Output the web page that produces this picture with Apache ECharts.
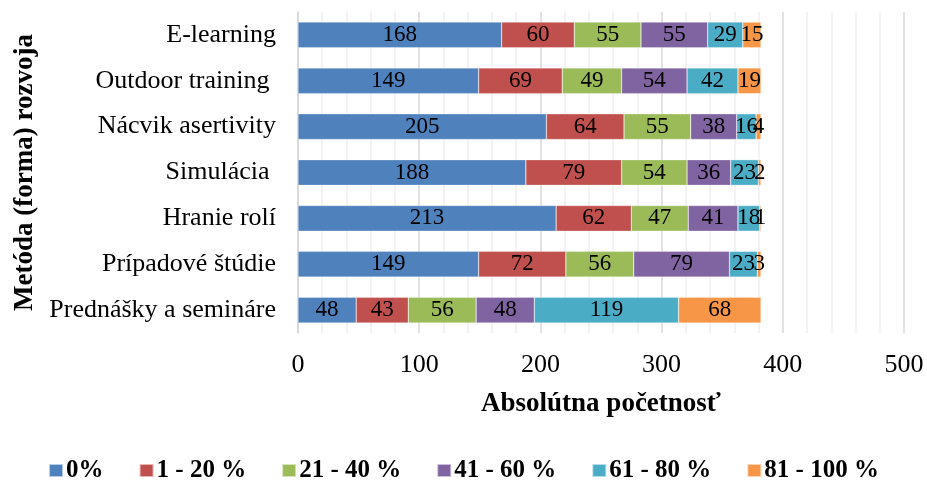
<!DOCTYPE html>
<html>
<head>
<meta charset="utf-8">
<script src="https://cdn.jsdelivr.net/npm/echarts@6/dist/echarts.min.js"></script>
<style>
  html, body { margin: 0; padding: 0; background: #fff; }
  #chart { width: 927px; height: 483px; }
</style>
</head>
<body>
<div id="chart"></div>
<script>
// Methods of development, listed bottom to top as the category axis draws them
const categories = [
  'Prednášky a semináre',
  'Prípadové štúdie',
  'Hranie rolí',
  'Simulácia ',
  'Nácvik asertivity',
  'Outdoor training ',
  'E-learning'
];

const seriesNames = ['0%', '1 - 20 %', '21 - 40 %', '41 - 60 %', '61 - 80 %', '81 - 100 %'];

const vals0   = [48, 149, 213, 188, 205, 149, 168];
const vals1   = [43, 72, 62, 79, 64, 69, 60];
const vals21  = [56, 56, 47, 54, 55, 49, 55];
const vals41  = [48, 79, 41, 36, 38, 54, 55];
const vals61  = [119, 23, 18, 23, 16, 42, 29];
const vals81  = [68, 3, 1, 2, 4, 19, 15];

const colors = ['#4F81BD', '#C0504D', '#9BBB59', '#8064A2', '#4BACC6', '#F79646'];
const allValues = [vals0, vals1, vals21, vals41, vals61, vals81];

const font = '"Liberation Serif", "Times New Roman", serif';

const chart = echarts.init(document.getElementById('chart'));

chart.setOption({
  animation: false,
  color: colors,
  grid: { left: 298, right: 23, top: 12, bottom: 150, containLabel: false },
  legend: {
    top: 453,
    left: 'center',
    icon: 'rect',
    itemWidth: 14,
    itemHeight: 13,
    itemGap: 35,
    textStyle: { fontFamily: font, fontWeight: 'bold', fontSize: 25, color: '#000', padding: [0, 0, 0, -2] },
    data: seriesNames
  },
  xAxis: {
    type: 'value',
    min: 0,
    max: 500,
    interval: 100,
    name: 'Absolútna početnosť',
    nameLocation: 'middle',
    nameGap: 58,
    nameTextStyle: { fontFamily: font, fontWeight: 'bold', fontSize: 27, color: '#000' },
    axisLine: { show: false },
    axisTick: { show: false },
    axisLabel: { fontFamily: font, fontSize: 26, color: '#000', margin: 19 },
    splitLine: { show: true, lineStyle: { color: '#D9D9D9', width: 1.5 } },
    minorTick: { show: false, splitNumber: 5 },
    minorSplitLine: { show: true, lineStyle: { color: '#EFEFEF', width: 1.5 } }
  },
  yAxis: {
    type: 'category',
    data: categories,
    name: 'Metóda (forma) rozvoja',
    nameLocation: 'middle',
    nameRotate: 90,
    nameGap: 258,
    nameTextStyle: { fontFamily: font, fontWeight: 'bold', fontSize: 27, color: '#000' },
    axisLine: { show: true, lineStyle: { color: '#D9D9D9', width: 1.5 } },
    axisTick: { show: false },
    axisLabel: { fontFamily: font, fontSize: 26, color: '#000', margin: 22 }
  },
  series: seriesNames.map((name, i) => ({
    name: name,
    type: 'bar',
    stack: 'total',
    barCategoryGap: '44%',
    data: allValues[i],
    itemStyle: { color: colors[i], borderColor: 'rgba(255,255,255,0.6)', borderWidth: 0.5 },
    label: {
      show: true,
      position: 'inside',
      fontFamily: font,
      fontSize: 23,
      color: '#000'
    }
  }))
});
</script>
</body>
</html>
